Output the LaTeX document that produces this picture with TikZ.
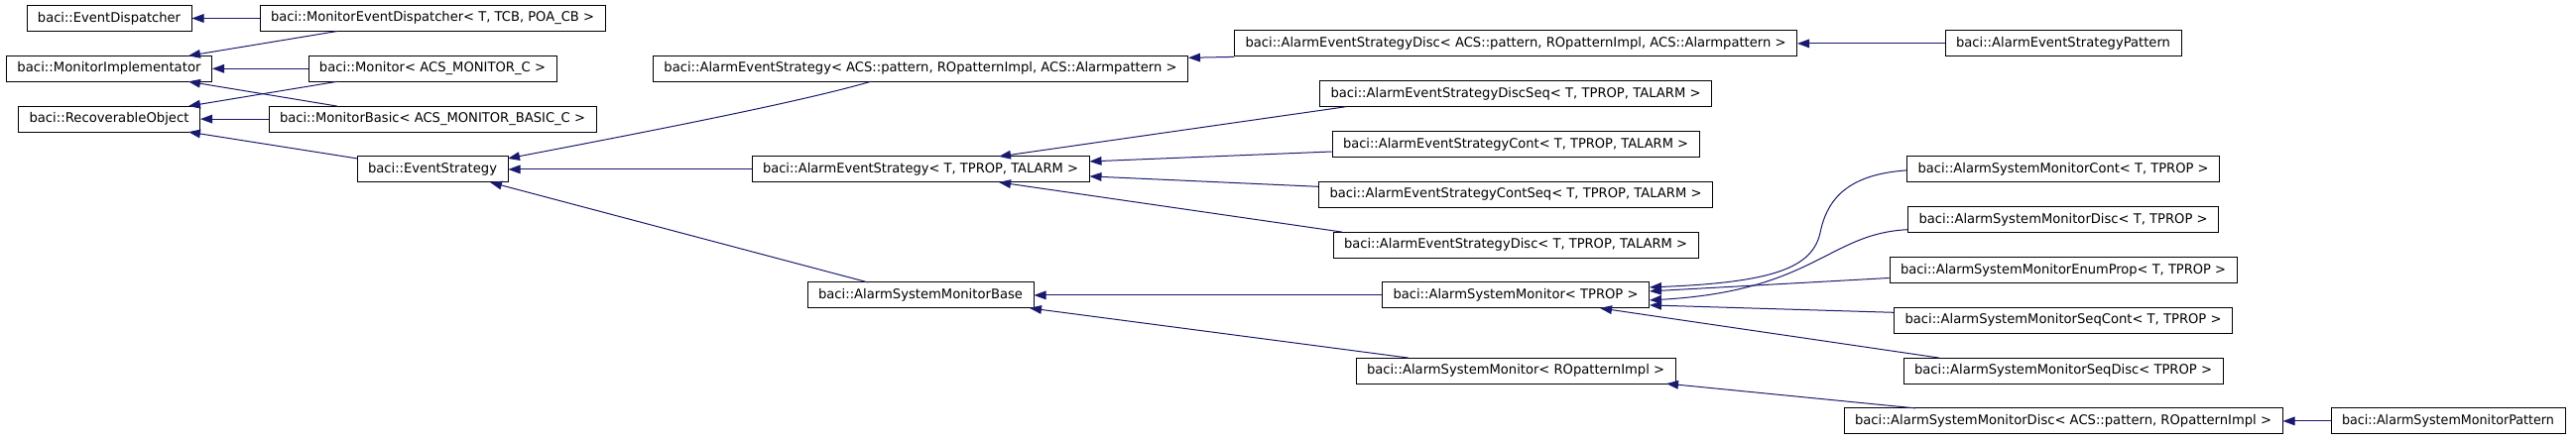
\documentclass[tikz,border=0pt]{standalone}
\usepackage{fontspec}
\setmainfont{DejaVu Sans}
\usetikzlibrary{arrows.meta,calc}
\definecolor{edgeblue}{RGB}{25,25,112}
\tikzset{
  cls/.style={draw=black, line width=0.75pt, inner sep=0pt, fill=white, font=\fontsize{10pt}{12pt}\selectfont},
  inh/.style={draw=edgeblue, line width=0.75pt, -{Triangle[length=9pt,width=6.5pt]}}
}
\newcommand\clsbox[5]{%
  \pgfmathsetlengthmacro\clsw{#4*0.75pt}%
  \pgfmathsetlengthmacro\clst{(#4-22)*0.75pt}%
  \pgfmathsetmacro\clsy{18.5+25.4*#3}%
  \node[cls, minimum width=\clsw, minimum height=19.5pt] (#1) at (#2,\clsy) {\resizebox{\clst}{\height}{#5}};}
\begin{document}
\begin{tikzpicture}[x=0.75pt,y=-0.75pt]
\useasboundingbox (0,0) rectangle (2597,443);
\fill[white] (0,0) rectangle (2597,443);
% rank 0
\clsbox{ED}{110}{0}{166}{baci::EventDispatcher}
\clsbox{MI}{110}{2}{207}{baci::MonitorImplementator}
\clsbox{RO}{110}{4}{183}{baci::RecoverableObject}
% rank 1
\clsbox{MED}{436}{0}{348}{baci::MonitorEventDispatcher< T, TCB, POA\_CB >}
\clsbox{Mon}{436}{2}{250}{baci::Monitor< ACS\_MONITOR\_C >}
\clsbox{MB}{436}{4}{330}{baci::MonitorBasic< ACS\_MONITOR\_BASIC\_C >}
\clsbox{ES}{436}{6}{152}{baci::EventStrategy}
% rank 2
\clsbox{AESA}{928}{2}{539}{baci::AlarmEventStrategy< ACS::pattern, ROpatternImpl, ACS::Alarmpattern >}
\clsbox{AES}{928}{6}{340}{baci::AlarmEventStrategy< T, TPROP, TALARM >}
\clsbox{ASMB}{928}{11}{228}{baci::AlarmSystemMonitorBase}
% rank 3
\clsbox{AESDA}{1528}{1}{567}{baci::AlarmEventStrategyDisc< ACS::pattern, ROpatternImpl, ACS::Alarmpattern >}
\clsbox{AESDS}{1528}{3}{395}{baci::AlarmEventStrategyDiscSeq< T, TPROP, TALARM >}
\clsbox{AESC}{1528}{5}{370}{baci::AlarmEventStrategyCont< T, TPROP, TALARM >}
\clsbox{AESCS}{1528}{7}{397}{baci::AlarmEventStrategyContSeq< T, TPROP, TALARM >}
\clsbox{AESD}{1528}{9}{368}{baci::AlarmEventStrategyDisc< T, TPROP, TALARM >}
\clsbox{ASM}{1528}{11}{269}{baci::AlarmSystemMonitor< TPROP >}
\clsbox{ASMR}{1528}{14}{322}{baci::AlarmSystemMonitor< ROpatternImpl >}
% rank 4
\clsbox{AESP}{2080}{1}{238}{baci::AlarmEventStrategyPattern}
\clsbox{ASMC}{2080}{6}{315}{baci::AlarmSystemMonitorCont< T, TPROP >}
\clsbox{ASMD}{2080}{8}{313}{baci::AlarmSystemMonitorDisc< T, TPROP >}
\clsbox{ASME}{2080}{10}{350}{baci::AlarmSystemMonitorEnumProp< T, TPROP >}
\clsbox{ASMSC}{2080}{12}{341}{baci::AlarmSystemMonitorSeqCont< T, TPROP >}
\clsbox{ASMSD}{2080}{14}{322}{baci::AlarmSystemMonitorSeqDisc< TPROP >}
\clsbox{ASMDA}{2080}{16}{442}{baci::AlarmSystemMonitorDisc< ACS::pattern, ROpatternImpl >}
% rank 5
\clsbox{ASMP}{2468}{16}{236}{baci::AlarmSystemMonitorPattern}
% edges
\draw[inh] (MED.west) -- (ED.east);
\draw[inh] ($(MED)+(-96,13)$) -- ($(MI)+(80,-13)$);
\draw[inh] (Mon.west) -- (MI.east);
\draw[inh] ($(Mon)+(-96,13)$) -- ($(RO)+(80,-13)$);
\draw[inh] ($(MB)+(-96,-13)$) -- ($(MI)+(80,13)$);
\draw[inh] (MB.west) -- (RO.east);
\draw[inh] ($(ES)+(-76,-11)$) -- ($(RO)+(80,13)$);
\draw[inh] ($(AESA)+(-50,13)$) .. controls ($(AESA)+(-130,36)$) and ($(ES)+(190,-33)$) .. ($(ES)+(76,-11)$);
\draw[inh] (AES.west) -- (ES.east);
\draw[inh] ($(ASMB)+(-53,-13)$) -- ($(ES)+(58,13)$);
\draw[inh] (AESDA.south west) -- ($(AESA.east)+(0,-11)$);
\draw[inh] (AESP.west) -- (AESDA.east);
\draw[inh] ($(AESDS)+(-171,13)$) -- ($(AES)+(79,-13)$);
\draw[inh] ($(AESC.west)+(0,7.5)$) -- ($(AES.east)+(0,-8)$);
\draw[inh] ($(AESCS.west)+(0,-8)$) -- ($(AES.east)+(0,7)$);
\draw[inh] ($(AESD)+(-175,-13)$) -- ($(AES)+(79,13)$);
\draw[inh] (ASM.west) -- (ASMB.east);
\draw[inh] ($(ASMR)+(-108,-13)$) -- ($(ASMB)+(110,13)$);
\coordinate (cm) at ($(ASMC.west)+(-87,64)$);
\draw[inh] ($(ASMC.west)+(0,1)$) .. controls ($(ASMC.west)+(-58,5)$) and ($(ASMC.west)+(-80,29)$) .. (cm) .. controls ($(cm)+(-8,35)$) and ($(cm)+(-46,50)$) .. ($(ASM.east)+(0,-8)$);
\draw[inh] ($(ASMD.west)+(0,10)$) .. controls ($(ASMD.west)+(-80,14)$) and ($(ASMD.west)+(-94,72)$) .. ($(ASM.east)+(0,5)$);
\draw[inh] ($(ASME.west)+(0,8)$) -- ($(ASM.east)+(0,-4)$);
\draw[inh] ($(ASMSC.west)+(0,-8)$) -- ($(ASM.east)+(0,10)$);
\draw[inh] ($(ASMSD)+(-125,-13)$) -- ($(ASM)+(85,13)$);
\draw[inh] ($(ASMDA)+(-149,-13)$) -- ($(ASMR)+(152,13)$);
\draw[inh] (ASMP.west) -- (ASMDA.east);
\end{tikzpicture}
\end{document}
